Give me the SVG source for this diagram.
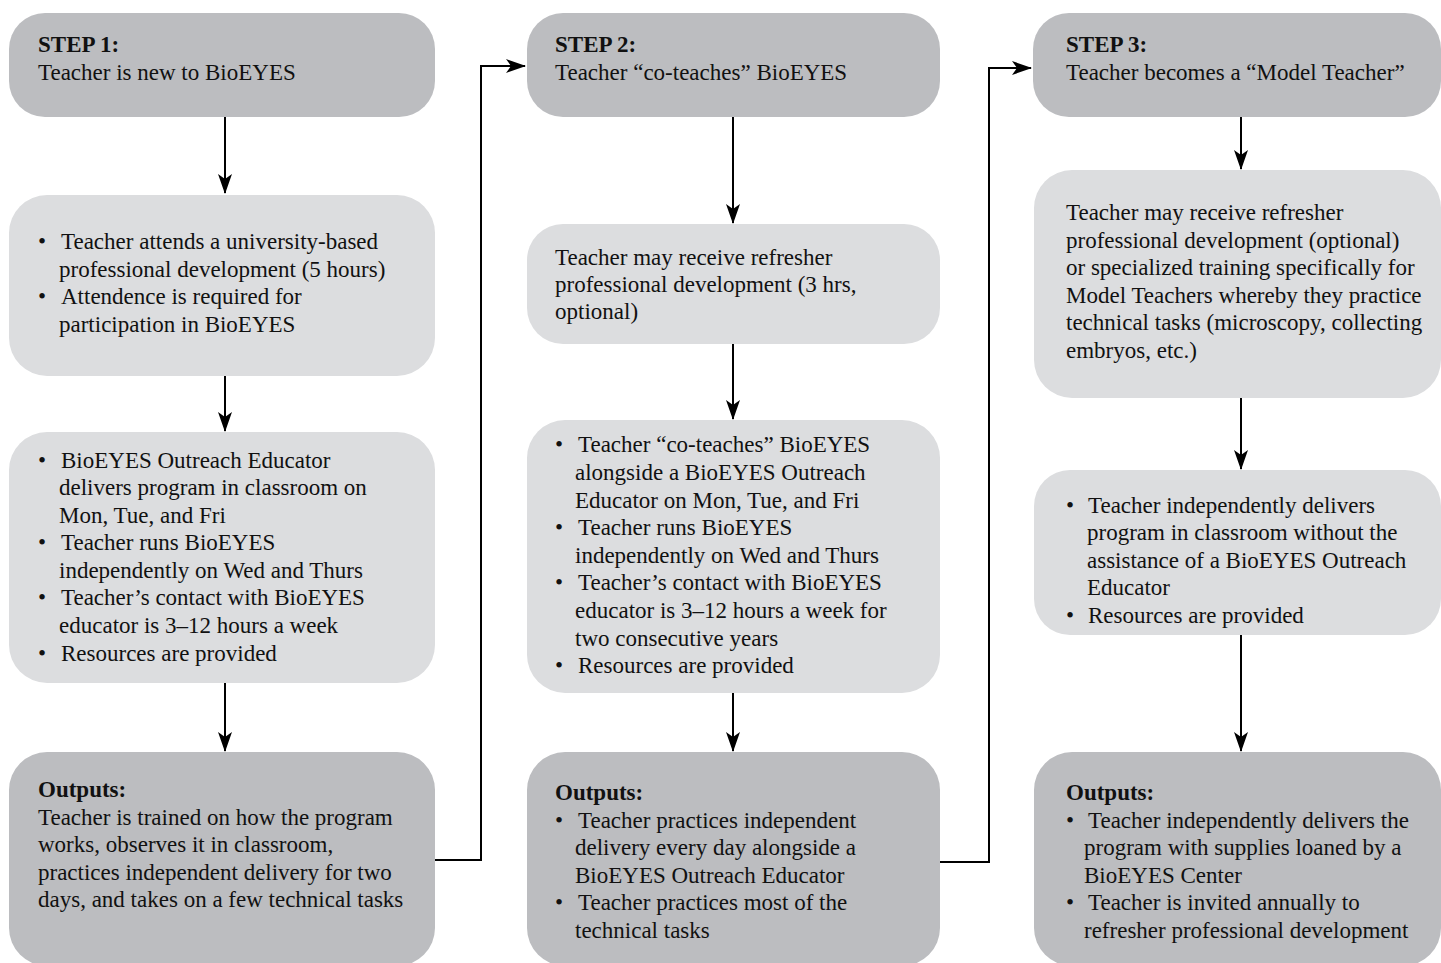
<svg xmlns="http://www.w3.org/2000/svg" width="1441" height="963" viewBox="0 0 1441 963">
<style>
.dark{fill:#bcbdc0}
.light{fill:#dcdddf}
text{font-family:"Liberation Serif","Times New Roman",serif;font-size:23px;fill:#111}
.b{font-weight:bold}
.c{fill:none;stroke:#000;stroke-width:2}
</style>
<defs>
<marker id="ah" viewBox="0 0 20 14" refX="19" refY="7" markerWidth="20" markerHeight="14" markerUnits="userSpaceOnUse" orient="auto">
<path d="M0,0 L20,7 L0,14 L5,7 Z" fill="#000"/>
</marker>
</defs>
<rect width="1441" height="963" fill="#fff"/>

<g id="connectors">
<line class="c" x1="225" y1="117" x2="225" y2="193" marker-end="url(#ah)"/>
<line class="c" x1="225" y1="376" x2="225" y2="431" marker-end="url(#ah)"/>
<line class="c" x1="225" y1="683" x2="225" y2="751" marker-end="url(#ah)"/>
<polyline class="c" points="435,860 481,860 481,66 525,66" marker-end="url(#ah)"/>
<line class="c" x1="733" y1="117" x2="733" y2="223" marker-end="url(#ah)"/>
<line class="c" x1="733" y1="344" x2="733" y2="419" marker-end="url(#ah)"/>
<line class="c" x1="733" y1="693" x2="733" y2="751" marker-end="url(#ah)"/>
<polyline class="c" points="940,862 989,862 989,68 1031,68" marker-end="url(#ah)"/>
<line class="c" x1="1241" y1="117" x2="1241" y2="169" marker-end="url(#ah)"/>
<line class="c" x1="1241" y1="398" x2="1241" y2="469" marker-end="url(#ah)"/>
<line class="c" x1="1241" y1="635" x2="1241" y2="751" marker-end="url(#ah)"/>
</g>

<g id="step1">
<rect class="dark" x="9" y="13" width="426" height="104" rx="36"/>
<text x="38" y="52" class="b">STEP 1:</text>
<text x="38" y="80">Teacher is new to BioEYES</text>
</g>
<g id="pd1">
<rect class="light" x="9" y="195" width="426" height="181" rx="38"/>
<text x="38" y="249">•</text><text x="61" y="249">Teacher attends a university-based</text>
<text x="59" y="277">professional development (5 hours)</text>
<text x="38" y="304">•</text><text x="61" y="304">Attendence is required for</text>
<text x="59" y="332">participation in BioEYES</text>
</g>
<g id="deliver1">
<rect class="light" x="9" y="432" width="426" height="251" rx="38"/>
<text x="38" y="468">•</text><text x="61" y="468">BioEYES Outreach Educator</text>
<text x="59" y="495">delivers program in classroom on</text>
<text x="59" y="523">Mon, Tue, and Fri</text>
<text x="38" y="550">•</text><text x="61" y="550">Teacher runs BioEYES</text>
<text x="59" y="578">independently on Wed and Thurs</text>
<text x="38" y="605">•</text><text x="61" y="605">Teacher’s contact with BioEYES</text>
<text x="59" y="633">educator is 3–12 hours a week</text>
<text x="38" y="661">•</text><text x="61" y="661">Resources are provided</text>
</g>
<g id="out1">
<rect class="dark" x="9" y="752" width="426" height="214" rx="38"/>
<text x="38" y="797" class="b">Outputs:</text>
<text x="38" y="825">Teacher is trained on how the program</text>
<text x="38" y="852">works, observes it in classroom,</text>
<text x="38" y="880">practices independent delivery for two</text>
<text x="38" y="907">days, and takes on a few technical tasks</text>
</g>

<g id="step2">
<rect class="dark" x="527" y="13" width="413" height="104" rx="36"/>
<text x="555" y="52" class="b">STEP 2:</text>
<text x="555" y="80">Teacher “co-teaches” BioEYES</text>
</g>
<g id="pd2">
<rect class="light" x="527" y="224" width="413" height="120" rx="36"/>
<text x="555" y="265">Teacher may receive refresher</text>
<text x="555" y="292">professional development (3 hrs,</text>
<text x="555" y="319">optional)</text>
</g>
<g id="deliver2">
<rect class="light" x="527" y="420" width="413" height="273" rx="38"/>
<text x="555" y="452">•</text><text x="578" y="452">Teacher “co-teaches” BioEYES</text>
<text x="575" y="480">alongside a BioEYES Outreach</text>
<text x="575" y="508">Educator on Mon, Tue, and Fri</text>
<text x="555" y="535">•</text><text x="578" y="535">Teacher runs BioEYES</text>
<text x="575" y="563">independently on Wed and Thurs</text>
<text x="555" y="590">•</text><text x="578" y="590">Teacher’s contact with BioEYES</text>
<text x="575" y="618">educator is 3–12 hours a week for</text>
<text x="575" y="646">two consecutive years</text>
<text x="555" y="673">•</text><text x="578" y="673">Resources are provided</text>
</g>
<g id="out2">
<rect class="dark" x="527" y="752" width="413" height="214" rx="38"/>
<text x="555" y="800" class="b">Outputs:</text>
<text x="555" y="828">•</text><text x="578" y="828">Teacher practices independent</text>
<text x="575" y="855">delivery every day alongside a</text>
<text x="575" y="883">BioEYES Outreach Educator</text>
<text x="555" y="910">•</text><text x="578" y="910">Teacher practices most of the</text>
<text x="575" y="938">technical tasks</text>
</g>

<g id="step3">
<rect class="dark" x="1033" y="13" width="408" height="104" rx="36"/>
<text x="1066" y="52" class="b">STEP 3:</text>
<text x="1066" y="80">Teacher becomes a “Model Teacher”</text>
</g>
<g id="pd3">
<rect class="light" x="1034" y="170" width="407" height="228" rx="38"/>
<text x="1066" y="220">Teacher may receive refresher</text>
<text x="1066" y="248">professional development (optional)</text>
<text x="1066" y="275">or specialized training specifically for</text>
<text x="1066" y="303">Model Teachers whereby they practice</text>
<text x="1066" y="330">technical tasks (microscopy, collecting</text>
<text x="1066" y="358">embryos, etc.)</text>
</g>
<g id="deliver3">
<rect class="light" x="1034" y="470" width="407" height="165" rx="36"/>
<text x="1066" y="513">•</text><text x="1088" y="513">Teacher independently delivers</text>
<text x="1087" y="540">program in classroom without the</text>
<text x="1087" y="568">assistance of a BioEYES Outreach</text>
<text x="1087" y="595">Educator</text>
<text x="1066" y="623">•</text><text x="1088" y="623">Resources are provided</text>
</g>
<g id="out3">
<rect class="dark" x="1034" y="752" width="407" height="214" rx="38"/>
<text x="1066" y="800" class="b">Outputs:</text>
<text x="1066" y="828">•</text><text x="1088" y="828">Teacher independently delivers the</text>
<text x="1084" y="855">program with supplies loaned by a</text>
<text x="1084" y="883">BioEYES Center</text>
<text x="1066" y="910">•</text><text x="1088" y="910">Teacher is invited annually to</text>
<text x="1084" y="938">refresher professional development</text>
</g>
</svg>
